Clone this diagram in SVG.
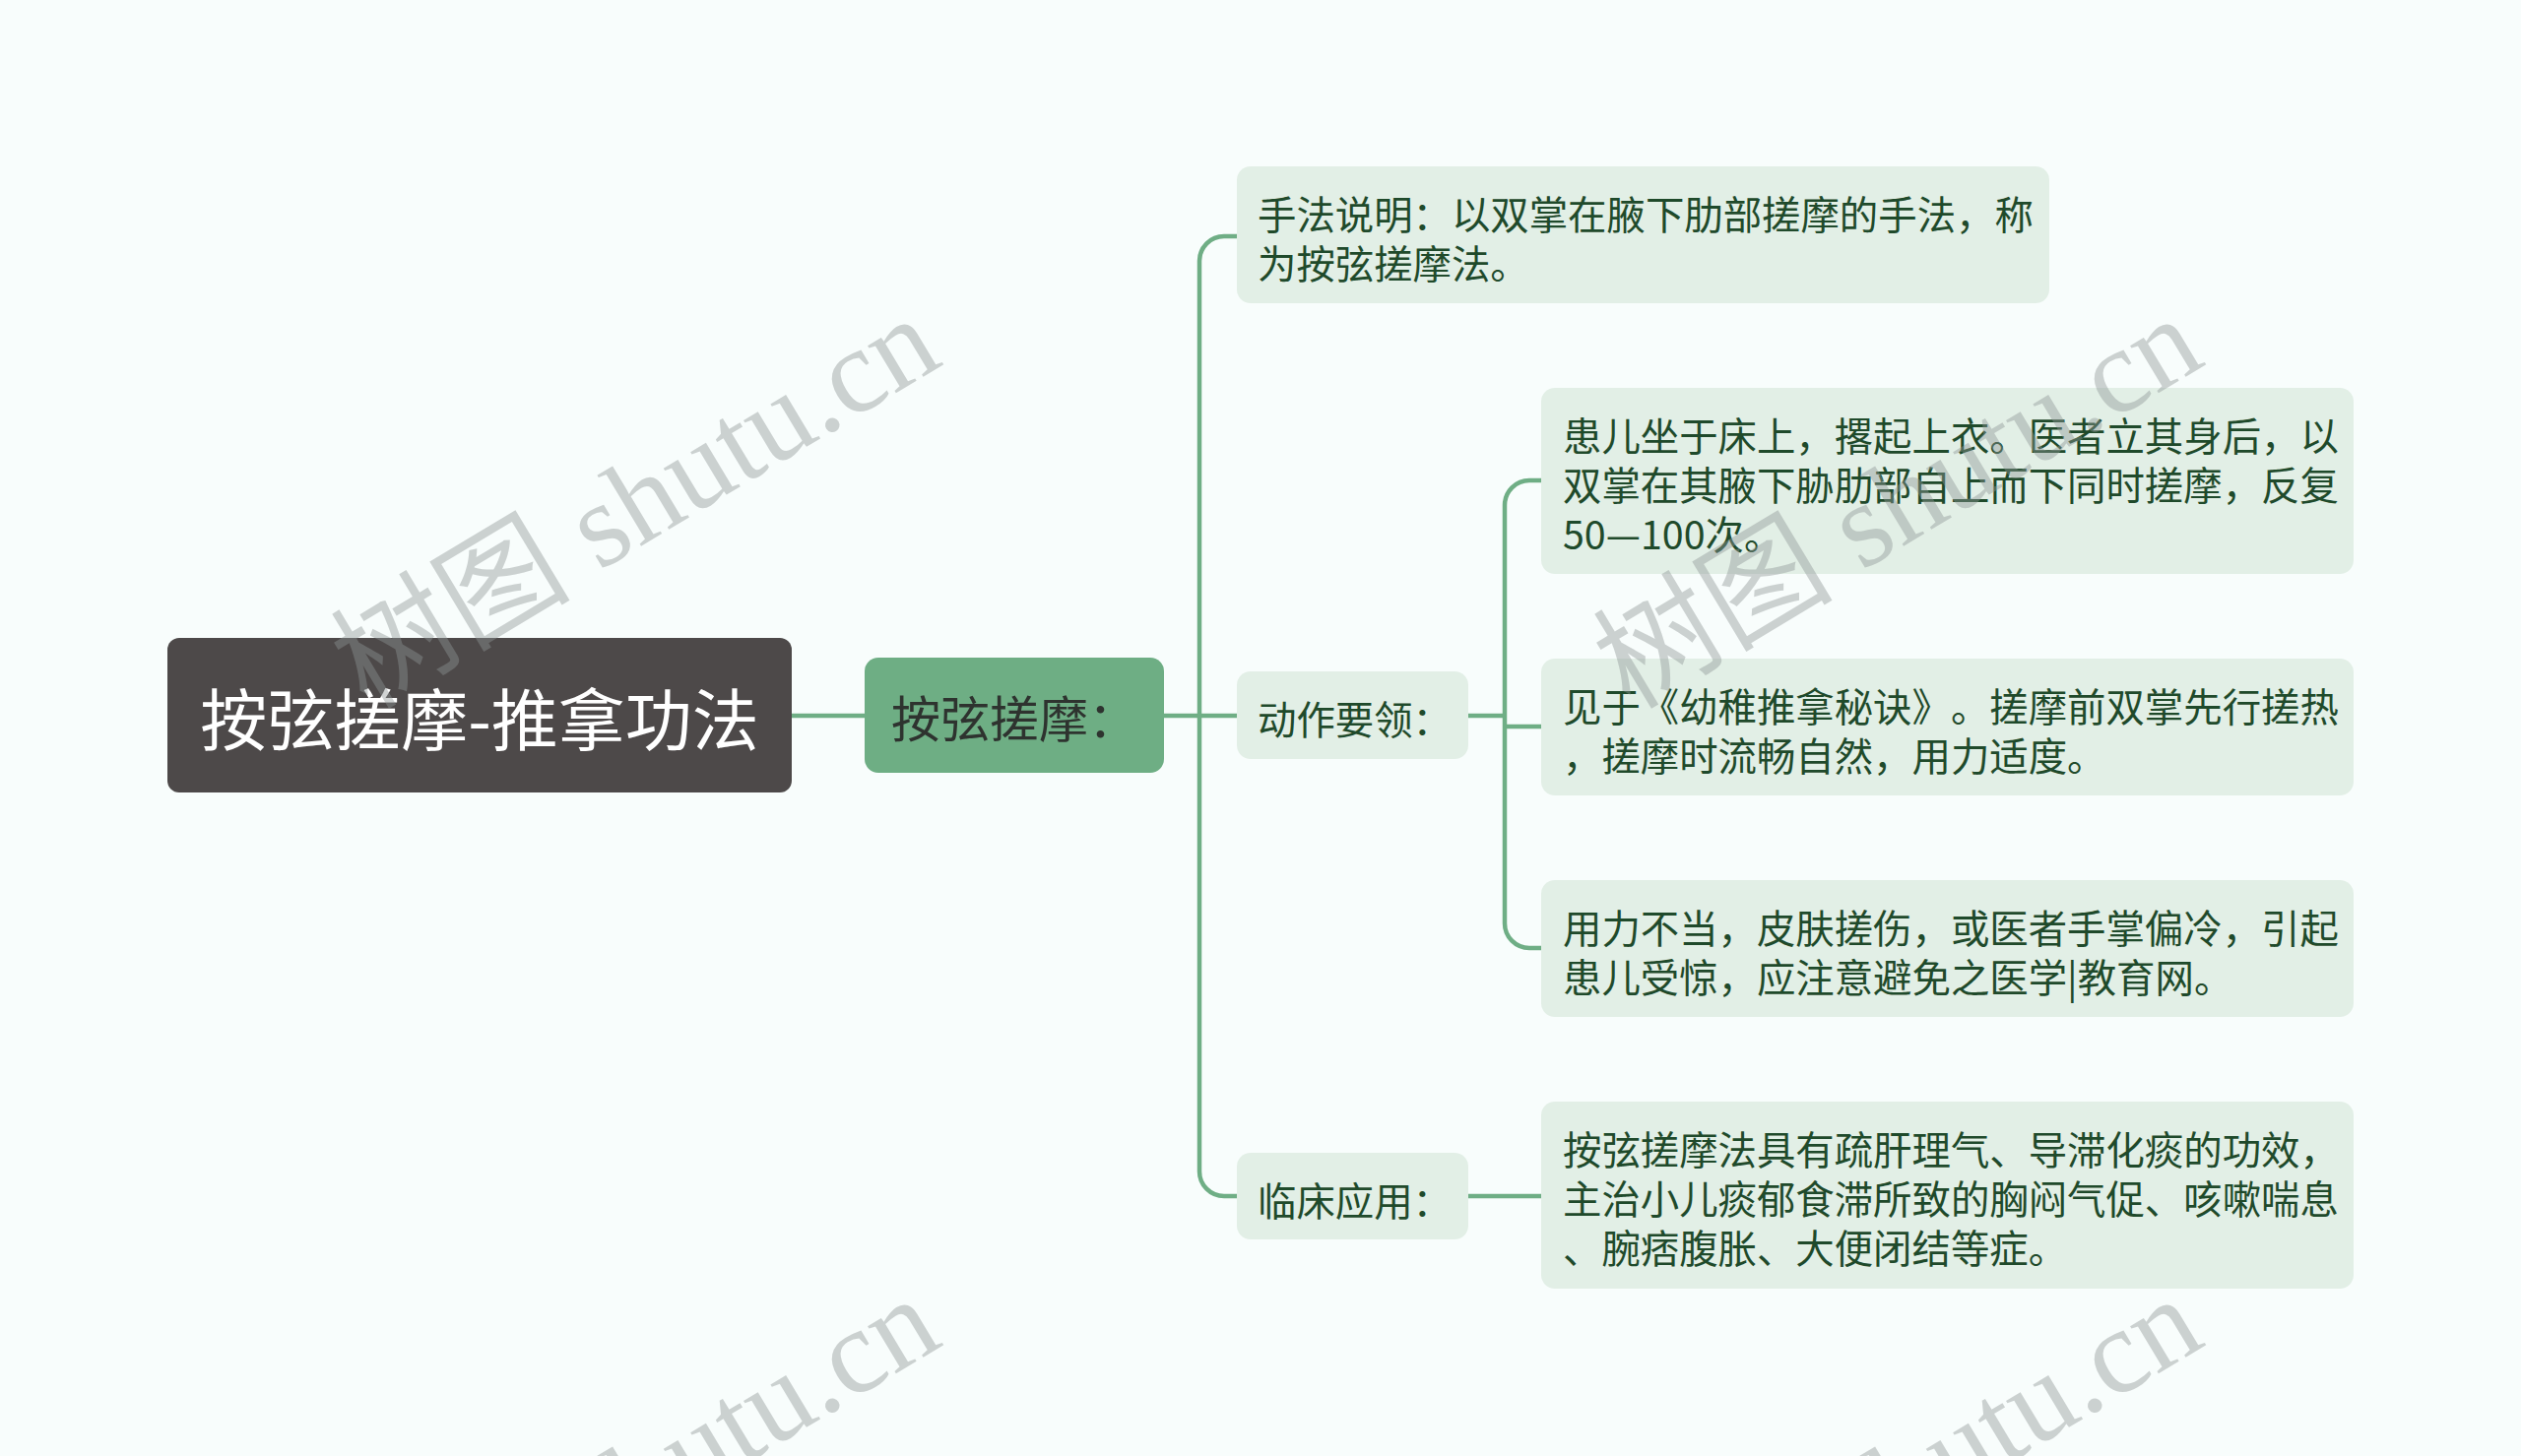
<svg xmlns="http://www.w3.org/2000/svg" width="2560" height="1479" viewBox="0 0 2560 1479">
<style>
.t{font-family:"Noto Sans CJK SC","Noto Sans",sans-serif;dominant-baseline:central;text-spacing-trim:space-all}
.root-t{font-size:68px;fill:#ffffff;text-anchor:middle}
.main-t{font-size:50px;fill:#2e332f}
.sub-t{font-size:39.4px;fill:#1f4a2b}
.leaf{fill:#e2efe6}
.conn{fill:none;stroke:#6fae85;stroke-width:4.5}
.wm{font-family:"Liberation Serif","Noto Sans CJK SC",serif;font-size:122px;fill:#8f9696;opacity:0.42;text-anchor:middle;dominant-baseline:central}
</style>
<rect x="0" y="0" width="2560" height="1479" fill="#f8fdfc"/>
<g id="connectors">
<path class="conn" d="M804,727 H878"/>
<path class="conn" d="M1182,727 H1256"/>
<path class="conn" d="M1256,240 H1243 A25,25 0 0 0 1218,265 V1190 A25,25 0 0 0 1243,1215 H1256"/>
<path class="conn" d="M1491,727 H1528"/>
<path class="conn" d="M1565,488 H1553 A25,25 0 0 0 1528,513 V938 A25,25 0 0 0 1553,963 H1565"/>
<path class="conn" d="M1528,738 H1565"/>
<path class="conn" d="M1491,1215 H1565"/>
</g>
<g id="root">
<rect x="170" y="648" width="634" height="157" rx="12" fill="#4d4949"/>
<text class="t root-t" x="487" y="727">按弦搓摩-推拿功法</text>
</g>
<g id="main">
<rect x="878" y="668" width="304" height="117" rx="14" fill="#6eae84"/>
<text class="t main-t" x="905" y="727">按弦搓摩：</text>
</g>
<g id="shoufa">
<rect class="leaf" x="1256" y="169" width="825" height="139" rx="14"/>
<text class="t sub-t" x="1277" y="215">手法说明：以双掌在腋下肋部搓摩的手法，称</text>
<text class="t sub-t" x="1277" y="265">为按弦搓摩法。</text>
</g>
<g id="dongzuo">
<rect class="leaf" x="1256" y="682" width="235" height="89" rx="14"/>
<text class="t sub-t" x="1277" y="728">动作要领：</text>
</g>
<g id="linchuang">
<rect class="leaf" x="1256" y="1171" width="235" height="88" rx="14"/>
<text class="t sub-t" x="1277" y="1217">临床应用：</text>
</g>
<g id="nodeA">
<rect class="leaf" x="1565" y="394" width="825" height="189" rx="14"/>
<text class="t sub-t" x="1587" y="440">患儿坐于床上，撂起上衣。医者立其身后，以</text>
<text class="t sub-t" x="1587" y="490">双掌在其腋下胁肋部自上而下同时搓摩，反复</text>
<text class="t sub-t" x="1587" y="540">50—100次。</text>
</g>
<g id="nodeB">
<rect class="leaf" x="1565" y="669" width="825" height="139" rx="14"/>
<text class="t sub-t" x="1587" y="715">见于《幼稚推拿秘诀》。搓摩前双掌先行搓热</text>
<text class="t sub-t" x="1587" y="765">，搓摩时流畅自然，用力适度。</text>
</g>
<g id="nodeC">
<rect class="leaf" x="1565" y="894" width="825" height="139" rx="14"/>
<text class="t sub-t" x="1587" y="940">用力不当，皮肤搓伤，或医者手掌偏冷，引起</text>
<text class="t sub-t" x="1587" y="990">患儿受惊，应注意避免之医学|教育网。</text>
</g>
<g id="nodeD">
<rect class="leaf" x="1565" y="1119" width="825" height="190" rx="14"/>
<text class="t sub-t" x="1587" y="1165">按弦搓摩法具有疏肝理气、导滞化痰的功效，</text>
<text class="t sub-t" x="1587" y="1215">主治小儿痰郁食滞所致的胸闷气促、咳嗽喘息</text>
<text class="t sub-t" x="1587" y="1265">、腕痞腹胀、大便闭结等症。</text>
</g>
<g id="watermarks">
<text class="wm" transform="translate(645,510) rotate(-31)">树图 shutu.cn</text>
<text class="wm" transform="translate(1927,510) rotate(-31)">树图 shutu.cn</text>
<text class="wm" transform="translate(645,1506) rotate(-31)">树图 shutu.cn</text>
<text class="wm" transform="translate(1927,1506) rotate(-31)">树图 shutu.cn</text>
</g>
</svg>
